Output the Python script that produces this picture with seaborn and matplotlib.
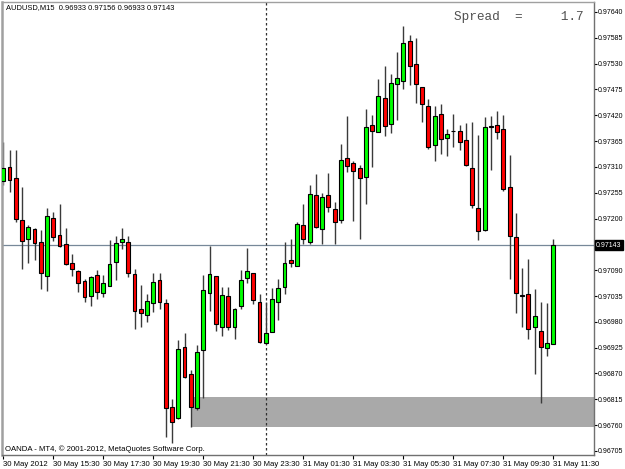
import matplotlib
matplotlib.use("Agg")
import matplotlib.pyplot as plt
import seaborn as sns
import numpy as np

# AUDUSD M15 bars, 30 May 2012 13:30 -> 31 May 2012 11:30
opens = [0.97279, 0.97309, 0.97287, 0.97198, 0.97156, 0.97178, 0.97151, 0.97078, 0.97201, 0.97164,
         0.97146, 0.97106, 0.97089, 0.97068, 0.97036, 0.97080, 0.97042, 0.97057, 0.97107, 0.97151,
         0.97151, 0.97081, 0.97007, 0.96995, 0.97020, 0.97069, 0.97021, 0.96798, 0.96775, 0.96926,
         0.96868, 0.96797, 0.96919, 0.97042, 0.97077, 0.96970, 0.97035, 0.96970, 0.97014, 0.97073,
         0.97084, 0.97023, 0.96936, 0.96959, 0.97022, 0.97054, 0.97111, 0.97100, 0.97186, 0.97151,
         0.97250, 0.97177, 0.97250, 0.97220, 0.97198, 0.97328, 0.97318, 0.97307, 0.97289, 0.97399,
         0.97385, 0.97457, 0.97401, 0.97486, 0.97494, 0.97579, 0.97529, 0.97480, 0.97440, 0.97357,
         0.97422, 0.97372, 0.97387, 0.97386, 0.97367, 0.97307, 0.97222, 0.97176, 0.97397, 0.97399,
         0.97390, 0.97267, 0.97160, 0.97037, 0.97039, 0.96968, 0.96961, 0.96924, 0.96933]
highs = [0.97364, 0.97345, 0.97345, 0.97267, 0.97186, 0.97179, 0.97176, 0.97222, 0.97215, 0.97232,
         0.97179, 0.97125, 0.97090, 0.97071, 0.97078, 0.97090, 0.97080, 0.97154, 0.97163, 0.97179,
         0.97163, 0.97093, 0.97058, 0.97039, 0.97085, 0.97084, 0.97028, 0.96816, 0.96941, 0.96956,
         0.96877, 0.96931, 0.97080, 0.97142, 0.97078, 0.97055, 0.97055, 0.97009, 0.97090, 0.97138,
         0.97085, 0.97039, 0.97023, 0.97053, 0.97071, 0.97150, 0.97156, 0.97193, 0.97231, 0.97272,
         0.97294, 0.97254, 0.97298, 0.97236, 0.97358, 0.97419, 0.97323, 0.97314, 0.97433, 0.97421,
         0.97497, 0.97526, 0.97509, 0.97554, 0.97611, 0.97591, 0.97584, 0.97481, 0.97455, 0.97440,
         0.97443, 0.97391, 0.97422, 0.97399, 0.97404, 0.97406, 0.97377, 0.97416, 0.97419, 0.97429,
         0.97421, 0.97335, 0.97211, 0.97094, 0.97114, 0.97050, 0.97022, 0.97021, 0.97156]
lows = [0.97272, 0.97257, 0.97193, 0.97092, 0.97106, 0.97112, 0.97051, 0.97046, 0.97152, 0.97140,
        0.97102, 0.97078, 0.97043, 0.97023, 0.97014, 0.97028, 0.97034, 0.97056, 0.97069, 0.97135,
        0.97076, 0.96965, 0.96968, 0.96980, 0.97001, 0.97007, 0.96734, 0.96723, 0.96774, 0.96861,
        0.96757, 0.96792, 0.96817, 0.97004, 0.96961, 0.96950, 0.96963, 0.96943, 0.97007, 0.97062,
        0.97018, 0.96936, 0.96933, 0.96958, 0.96984, 0.97039, 0.97097, 0.97099, 0.97146, 0.97146,
        0.97180, 0.97146, 0.97213, 0.97145, 0.97190, 0.97300, 0.97195, 0.97156, 0.97232, 0.97310,
        0.97384, 0.97376, 0.97382, 0.97410, 0.97476, 0.97484, 0.97447, 0.97406, 0.97348, 0.97323,
        0.97337, 0.97333, 0.97353, 0.97345, 0.97313, 0.97222, 0.97154, 0.97173, 0.97303, 0.97369,
        0.97259, 0.97071, 0.96998, 0.96970, 0.96943, 0.96869, 0.96808, 0.96907, 0.96933]
closes = [0.97307, 0.97282, 0.97199, 0.97152, 0.97181, 0.97147, 0.97083, 0.97205, 0.97160, 0.97142,
          0.97103, 0.97093, 0.97062, 0.97032, 0.97075, 0.97044, 0.97062, 0.97103, 0.97147, 0.97157,
          0.97085, 0.97004, 0.96998, 0.97024, 0.97064, 0.97023, 0.96796, 0.96767, 0.96922, 0.96863,
          0.96799, 0.96916, 0.97048, 0.97081, 0.96975, 0.97037, 0.96970, 0.97008, 0.97069, 0.97088,
          0.97027, 0.96938, 0.96957, 0.97028, 0.97053, 0.97106, 0.97105, 0.97188, 0.97157, 0.97252,
          0.97181, 0.97245, 0.97225, 0.97193, 0.97325, 0.97313, 0.97302, 0.97287, 0.97396, 0.97387,
          0.97461, 0.97398, 0.97489, 0.97499, 0.97575, 0.97526, 0.97486, 0.97443, 0.97353, 0.97419,
          0.97369, 0.97380, 0.97386, 0.97364, 0.97314, 0.97229, 0.97173, 0.97394, 0.97396, 0.97385,
          0.97263, 0.97163, 0.97042, 0.97036, 0.96964, 0.96993, 0.96927, 0.96934, 0.97143]

time_labels = ["30 May 2012", "30 May 15:30", "30 May 17:30", "30 May 19:30", "30 May 21:30",
               "30 May 23:30", "31 May 01:30", "31 May 03:30", "31 May 05:30", "31 May 07:30",
               "31 May 09:30", "31 May 11:30"]
price_ticks = [0.96705, 0.96760, 0.96815, 0.96870, 0.96925, 0.96980, 0.97035, 0.97090, 0.97145,
               0.97200, 0.97255, 0.97310, 0.97365, 0.97420, 0.97475, 0.97530, 0.97585, 0.97640]
bid = 0.97143
zone_low, zone_high, zone_start = 0.96757, 0.96819, 30
day_sep = 42

sns.set_theme(style="white")
plt.rcParams["font.family"] = ["Liberation Sans", "DejaVu Sans"]

W, H = 625, 469
fig = plt.figure(figsize=(W / 100, H / 100), dpi=100)
ax = fig.add_axes([2 / W, 1 - 455 / H, (594 - 2) / W, (455 - 2) / H])
ax.set_facecolor("white")

x = np.arange(len(opens))
o = np.array(opens)
c = np.array(closes)
up = c > o

# support zone from bar 30 to the right edge, behind the candles
ax.fill_between([zone_start, 200], zone_low, zone_high, color="#a9a9a9", lw=0, zorder=0.5)

# bid line and day separator
ax.axhline(bid, color="#778899", lw=0.9, zorder=1)
ax.axvline(day_sep, color="#303030", lw=0.9, ls=(0, (2, 2)), zorder=1)

# wicks and bodies
ax.vlines(x, lows, highs, color="#3a3a3a", lw=1.0, zorder=2)
ax.bar(x, np.maximum(np.abs(c - o), 0.000008), bottom=np.minimum(o, c), width=0.62,
       color=np.where(up, "#00ff00", "#ff0000"), edgecolor="black", linewidth=0.8, zorder=3)

ax.set_xlim(-0.2, 94.5)
ax.set_ylim(0.966964, 0.976613)

# x axis
ax.set_xticks(x[::8])
ax.set_xticklabels(time_labels, ha="left", fontsize=5.6)
ax.tick_params(axis="x", direction="out", length=3, width=0.8, pad=1.5, colors="black",
               bottom=True)

# y axis on the right
ax.yaxis.tick_right()
ax.set_yticks(price_ticks)
ax.set_yticklabels(["" if abs(p - 0.97145) < 1e-7 else f"{p:.5f}" for p in price_ticks],
                   fontsize=5.0)
ax.tick_params(axis="y", direction="out", length=2.0, width=0.8, pad=0.8, colors="black",
               right=True, left=False)

for s in ax.spines.values():
    s.set_color("#707070")
    s.set_linewidth(1.0)
ax.spines["left"].set_linewidth(1.8)
ax.spines["left"].set_color("#a0a0a0")
ax.spines["top"].set_color("#a0a0a0")
ax.grid(False)

# bid label on the price scale
ax.annotate(f"{bid:.5f}", xy=(1, bid), xycoords=("axes fraction", "data"),
            xytext=(1.6, 0), textcoords="offset points", ha="left", va="center",
            fontsize=5.0, color="white",
            bbox=dict(boxstyle="square,pad=0.2", fc="black", ec="black"))

fig.text(6 / W, 1 - 8 / H, "AUDUSD,M15  0.96933 0.97156 0.96933 0.97143",
         fontsize=5.4, va="center", ha="left", color="black")
fig.text(454 / W, 1 - 17 / H, "Spread  =     1.7", fontsize=9.2,
         family="Liberation Mono", va="center", ha="left", color="#505050")
fig.text(5 / W, 1 - 449 / H, "OANDA - MT4, \u00a9 2001-2012, MetaQuotes Software Corp.",
         fontsize=5.6, va="center", ha="left", color="black")

fig.savefig("out.png", dpi=100, facecolor="white")
